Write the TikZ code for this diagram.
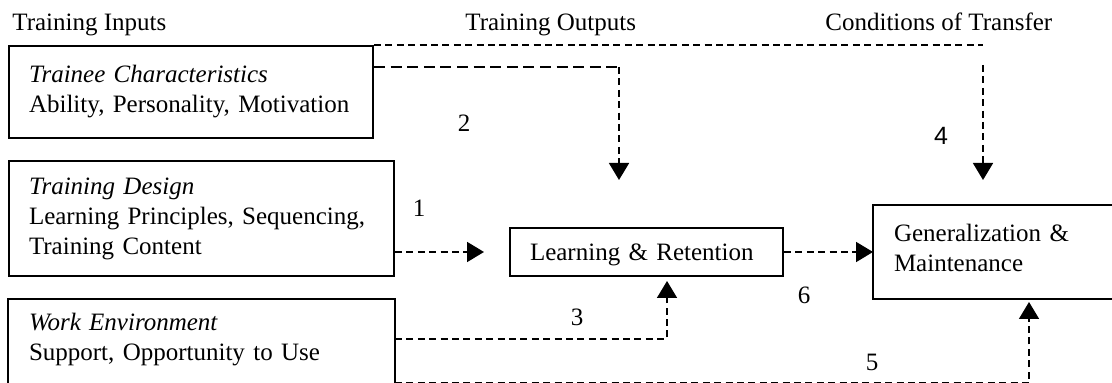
\documentclass[tikz,border=0pt]{standalone}
\usepackage{fontspec}
\setmainfont{Liberation Serif}
\setsansfont{Liberation Sans}
\usetikzlibrary{positioning,arrows.meta}

\newcommand{\deeper}[1]{\rule[-#1]{0pt}{0pt}}
\newcommand{\taller}[1]{\rule{0pt}{#1}}

\begin{document}
\begin{tikzpicture}[x=0.5pt,y=-0.5pt,
  font=\fontsize{12.5}{15}\selectfont,
  >={Triangle[width=10pt,length=8.5pt]},
  box/.style={draw,rectangle,line width=1pt,align=left,inner xsep=10pt,inner ysep=6.5pt},
  openbox/.style={box,draw=none},
  frame/.style={line width=1pt},
  head/.style={anchor=base west,inner sep=0pt},
  num/.style={inner sep=0pt},
  conn/.style={line width=0.85pt,dash pattern=on 3.5pt off 2.2pt},
  wide/.style={line width=1.3pt,dash pattern=on 5.5pt off 2.8pt}]
  \useasboundingbox (0,0) rectangle (1112,383);
  \clip (0,0) rectangle (1112,383);

  \node[head] (inputs) at (12,31) {Training Inputs};
  \node[head] (outputs) at (465,31) {Training Outputs};
  \node[head] (transfer) at (825,31) {Conditions of Transfer};

  \node[box,text width=162pt,minimum height=46pt,anchor=north west] (trainee) at (8,45)
       {\textit{Trainee Characteristics}\\Ability, Personality, Motivation};
  \node[box,text width=172.5pt,minimum height=57.5pt,below=10.5pt of trainee.south west,anchor=north west] (design)
       {\textit{Training Design}\\Learning Principles, Sequencing,\\Training Content};
  \node[openbox,text width=172.5pt,below=11pt of design.south west,anchor=north west] (work)
       {\textit{Work Environment}\\Support, Opportunity to Use\deeper{50pt}};
  \node[box,text width=116.5pt,minimum height=24pt,inner ysep=4pt,
        right=57pt of design.south east,anchor=south west] (learn) {\taller{11.7pt}Learning \& Retention};
  \node[openbox,text width=200pt,minimum height=46pt,right=44.5pt of learn] (gen)
       {Generalization \&\\Maintenance\deeper{4pt}};
  \draw[frame] (work.south west) -- (work.north west) -- (work.north east) -- (work.south east);
  \draw[frame] (gen.north east) -- (gen.north west) -- (gen.south west) -- (gen.south east);

  \node[num] (n1) at (419,208) {1};
  \node[num] (n2) at (464,123) {2};
  \node[num] (n3) at (577,317) {3};
  \node[num,font=\fontsize{12.5}{15}\sffamily] (n4) at (941,136) {4};
  \node[num] (n5) at (872,362) {5};
  \node[num] (n6) at (804,295) {6};

  \coordinate (bend2) at (619,67);
  \coordinate (bend3) at (667,339);
  \coordinate (top4) at (983,65);
  \coordinate (bend5) at (1029,383);

  \draw[conn] (trainee.north east) -- (trainee.north east -| top4);
  \draw[wide] (trainee.east |- bend2) -- (bend2);
  \draw[conn,->,shorten >=23.5pt] (bend2) -- (bend2 |- learn.north);
  \draw[conn,->,shorten >=12.5pt] (top4) -- (top4 |- gen.north);
  \draw[conn,->,shorten >=12.5pt] (design.east |- learn.west) -- (learn.west);
  \draw[conn,->,shorten >=2pt] (work.east |- bend3) -- (bend3) -- (bend3 |- learn.south);
  \draw[conn,->] (learn.east) -- (learn.east -| gen.west);
  \draw[conn,->,shorten >=1.5pt] (work.east |- bend5) -- (bend5) -- (bend5 |- gen.south);
\end{tikzpicture}
\end{document}
